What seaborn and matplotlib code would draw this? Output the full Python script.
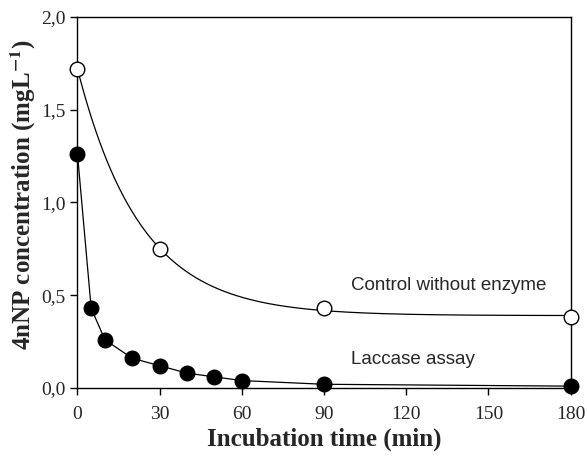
import numpy as np
import pandas as pd
import matplotlib
matplotlib.use("Agg")
import matplotlib.pyplot as plt
import seaborn as sns
from matplotlib.ticker import FuncFormatter

# Dados
tempo_controle = [0, 30, 90, 180]
conc_controle = [1.72, 0.75, 0.43, 0.38]

tempo_lacase = [0, 5, 10, 20, 30, 40, 50, 60, 90, 180]
conc_lacase = [1.26, 0.43, 0.26, 0.16, 0.12, 0.08, 0.06, 0.04, 0.02, 0.01]

sns.set_theme(style="ticks")
plt.rcParams['font.family'] = ['Liberation Serif', 'DejaVu Serif']
plt.rcParams['mathtext.fontset'] = 'stix'

# Ajuste exponencial (y = c + a*exp(-b*x)) para a curva do controle
xc = np.array(tempo_controle, dtype=float)
yc = np.array(conc_controle, dtype=float)
best = None
for b in np.linspace(0.001, 0.2, 2000):
    A = np.column_stack([np.exp(-b * xc), np.ones_like(xc)])
    coef, res, *_ = np.linalg.lstsq(A, yc, rcond=None)
    err = np.sum((A @ coef - yc) ** 2)
    if best is None or err < best[0]:
        best = (err, b, coef)
_, b_fit, (a_fit, c_fit) = best
x_fit = np.linspace(0, 180, 400)
curva = pd.DataFrame({'t': x_fit, 'y': c_fit + a_fit * np.exp(-b_fit * x_fit)})

df_ctrl = pd.DataFrame({'t': tempo_controle, 'y': conc_controle})
df_lac = pd.DataFrame({'t': tempo_lacase, 'y': conc_lacase})

fig, ax = plt.subplots(figsize=(5.87, 4.57), dpi=100)
fig.subplots_adjust(left=0.132, right=0.972, top=0.963, bottom=0.151)

sns.lineplot(data=curva, x='t', y='y', color='black', linewidth=0.9, ax=ax)
sns.lineplot(data=df_lac, x='t', y='y', color='black', linewidth=0.9, ax=ax)
sns.scatterplot(data=df_ctrl, x='t', y='y', marker='o', s=110, facecolor='white',
                edgecolor='black', linewidth=1.0, zorder=5, clip_on=False, ax=ax)
sns.scatterplot(data=df_lac, x='t', y='y', marker='o', s=110, color='black',
                edgecolor='black', linewidth=1.0, zorder=5, clip_on=False, ax=ax)

ax.set_xlim(0, 180)
ax.set_ylim(0, 2.0)
ax.set_xticks(range(0, 181, 30))
ax.set_yticks([0, 0.5, 1.0, 1.5, 2.0])
ax.yaxis.set_major_formatter(FuncFormatter(lambda v, p: f"{v:.1f}".replace('.', ',')))
ax.tick_params(direction='out', length=5, width=1, labelsize=14, color='black')
ax.tick_params(axis='x', pad=8)

for s in ax.spines.values():
    s.set_linewidth(1.0)
    s.set_color('black')

ax.set_xlabel('Incubation time (min)', fontsize=18, fontweight='bold', labelpad=3)
ax.set_ylabel(r'4nNP concentration (mgL$^{\mathbf{-1}}$)', fontsize=18,
              fontweight='bold')
ax.yaxis.set_label_coords(-0.08, 0.52)

ax.text(100, 0.555, 'Control without enzyme', fontsize=13.5, family='Liberation Sans',
        va='center', ha='left')
ax.text(100, 0.152, 'Laccase assay', fontsize=13.5, family='Liberation Sans',
        va='center', ha='left')

plt.savefig("out.png", dpi=100)
